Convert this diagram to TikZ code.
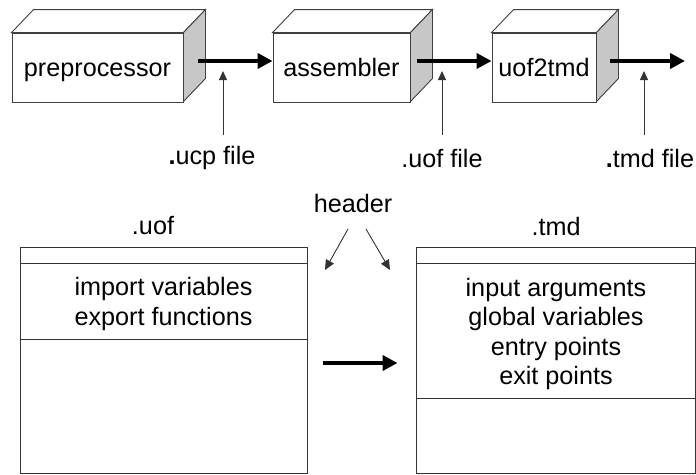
\documentclass[tikz,border=0pt]{standalone}
\usepackage{fontspec}
\setmainfont{Liberation Sans}
\usetikzlibrary{arrows.meta}
\begin{document}
\begin{tikzpicture}[x=1pt,y=-1pt,
  font=\fontsize{25.2}{29.5}\selectfont,
  front/.style={draw=black!75,line width=0.9pt,fill=white,minimum height=69pt,inner sep=0pt,
    text height=18pt,text depth=0pt},
  flow/.style={line width=4pt,-{Triangle[length=15pt,width=15pt]}},
  pointer/.style={draw=black!80,line width=0.9pt,-{Triangle[length=9pt,width=8pt]}},
  tab/.style={draw=black!80,line width=0.9pt,minimum height=226pt,inner sep=0pt},
  sep/.style={draw=black!80,line width=0.9pt},
  label/.style={inner sep=0pt}]
\useasboundingbox (0,0) rectangle (696,474);

% draws the top and the shaded side face of a box whose front is node #1
\newcommand\boxdepth[1]{%
  \draw[draw=black!75,line width=0.9pt,fill=white]
    (#1.north west) -- ++(22,-23) -- ([shift={(22,-23)}]#1.north east) -- (#1.north east) -- cycle;
  \draw[draw=black!75,line width=0.9pt,fill=black!22]
    (#1.north east) -- ++(22,-23) -- ++(0,69) -- ++(-22,23) -- cycle;}

% processing stages
\node[front,minimum width=171pt] (pre) at (97.5,67.5) {preprocessor};
\node[front,minimum width=137pt] (asm) at (341.5,67.5) {assembler};
\node[front,minimum width=104pt] (u2t) at (544,67.5) {uof2tmd};
\boxdepth{pre}
\boxdepth{asm}
\boxdepth{u2t}

\coordinate (out) at (685,61);
\draw[flow] ([shift={(15,-6.5)}]pre.east) -- ([shift={(0,-6.5)}]asm.west);
\draw[flow] ([shift={(7,-6.5)}]asm.east) -- ([shift={(0,-6.5)}]u2t.west);
\draw[flow] ([shift={(14,-6.5)}]u2t.east) -- (out);

% file labels under the pipeline
\node[label] (ucp) at (212,158) {\textbf{.}ucp file};
\node[label] (uofl) at (442,158) {.uof file};
\node[label] (tmdl) at (650,158) {\textbf{.}tmd file};
\coordinate (ucpA) at (223,135); \coordinate (ucpB) at (223,71);
\coordinate (uofA) at (442,135); \coordinate (uofB) at (442,71);
\coordinate (tmdA) at (644,135); \coordinate (tmdB) at (644,71);
\draw[pointer] (ucpA) -- (ucpB);
\draw[pointer] (uofA) -- (uofB);
\draw[pointer] (tmdA) -- (tmdB);

% file layouts
\node[label] (uoft) at (153,226) {.uof};
\node[label] (tmdt) at (556,226) {.tmd};
\node[label] (hdr) at (353,203) {header};

\node[tab,minimum width=287pt] (uoftab) at (163.5,360) {};
\node[tab,minimum width=279pt] (tmdtab) at (555.5,360) {};
\draw[sep] (20,263) -- (307,263);
\draw[sep] (20,339) -- (307,339);
\draw[sep] (416,263) -- (695,263);
\draw[sep] (416,398) -- (695,398);

\node[label,align=center] (uofhead) at (163.5,304) {import variables\\export functions};
\node[label,align=center] (tmdhead) at (556,334) {input arguments\\global variables\\entry points\\exit points};

\coordinate (h1) at (348,229); \coordinate (h1e) at (325,270);
\coordinate (h2) at (366,229); \coordinate (h2e) at (390,270);
\draw[pointer,-{Triangle[length=10pt,width=9pt]}] (h1) -- (h1e);
\draw[pointer,-{Triangle[length=10pt,width=9pt]}] (h2) -- (h2e);

\draw[flow] ([shift={(16,3)}]uoftab.east) -- ([shift={(-18,3)}]tmdtab.west);
\end{tikzpicture}
\end{document}
